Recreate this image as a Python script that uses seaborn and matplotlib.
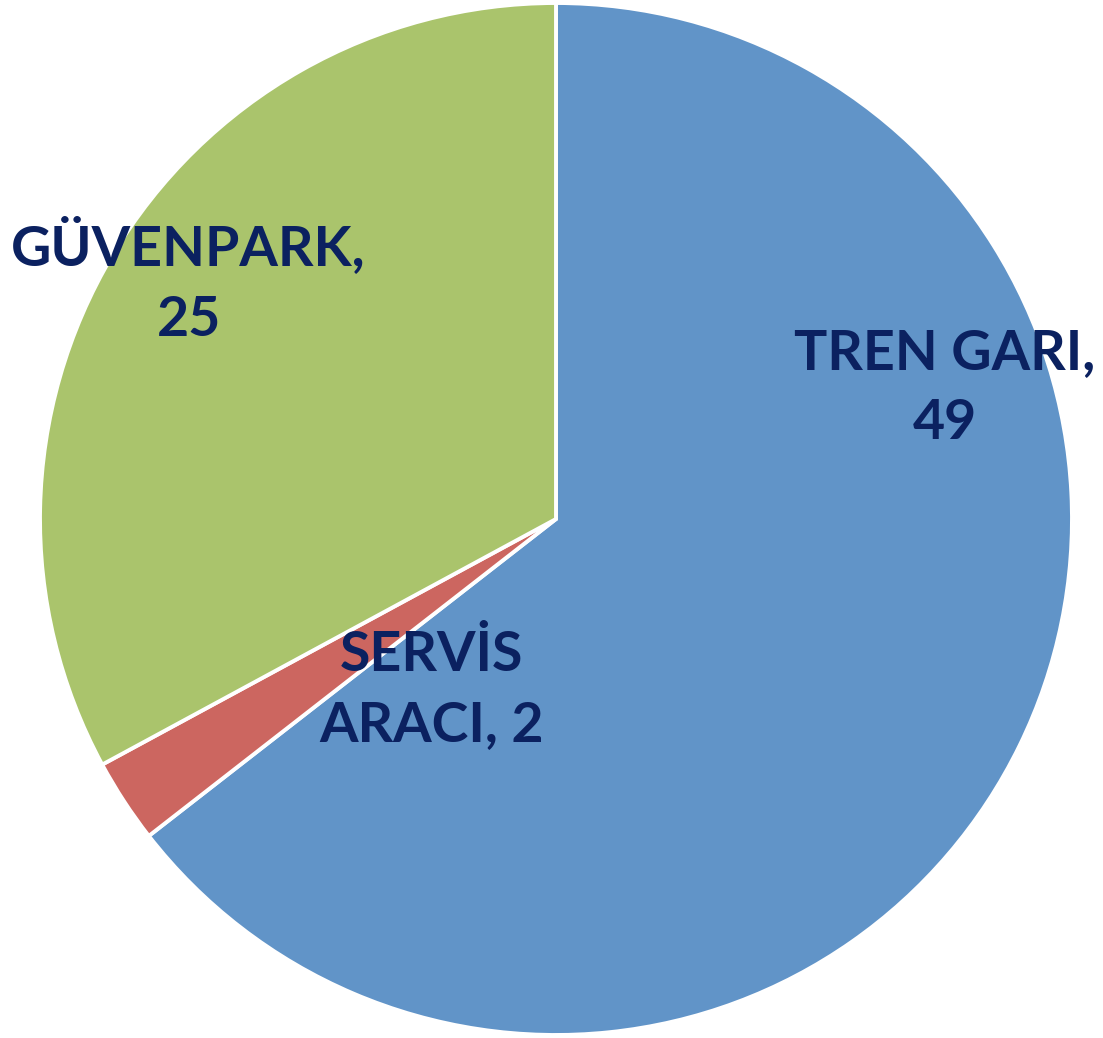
import matplotlib.pyplot as plt
import seaborn as sns

sns.set_theme(style="white")
plt.rcParams["font.family"] = ["Lato", "DejaVu Sans"]

categories = ["TREN GARI", "SERVİS ARACI", "GÜVENPARK"]
values = [49, 2, 25]
labels = ["TREN GARI,\n49", "SERVİS\nARACI, 2", "GÜVENPARK,\n25"]
colors = ["#6194C8", "#CC6660", "#AAC46C"]
# label centres in axes fractions (pie box)
label_pos = [(0.877, 0.627), (0.379, 0.335), (0.144, 0.731)]

W, H = 1103, 1038
fig = plt.figure(figsize=(W / 100, H / 100), dpi=100)
ax = fig.add_axes([40 / W, 3 / H, 1032 / W, 1032 / H])

ax.pie(
    values,
    colors=colors,
    startangle=90,
    counterclock=False,
    radius=1,
    wedgeprops={"edgecolor": "white", "linewidth": 2.8},
)
ax.set_xlim(-1, 1)
ax.set_ylim(-1, 1)
ax.set_aspect("auto")
ax.axis("off")

for text, (x, y) in zip(labels, label_pos):
    ax.text(
        x, y, text,
        transform=ax.transAxes,
        ha="center", va="center",
        fontsize=40, fontweight="bold",
        color="#0B2160",
        linespacing=1.5,
    )

fig.savefig("out.png", dpi=100)
